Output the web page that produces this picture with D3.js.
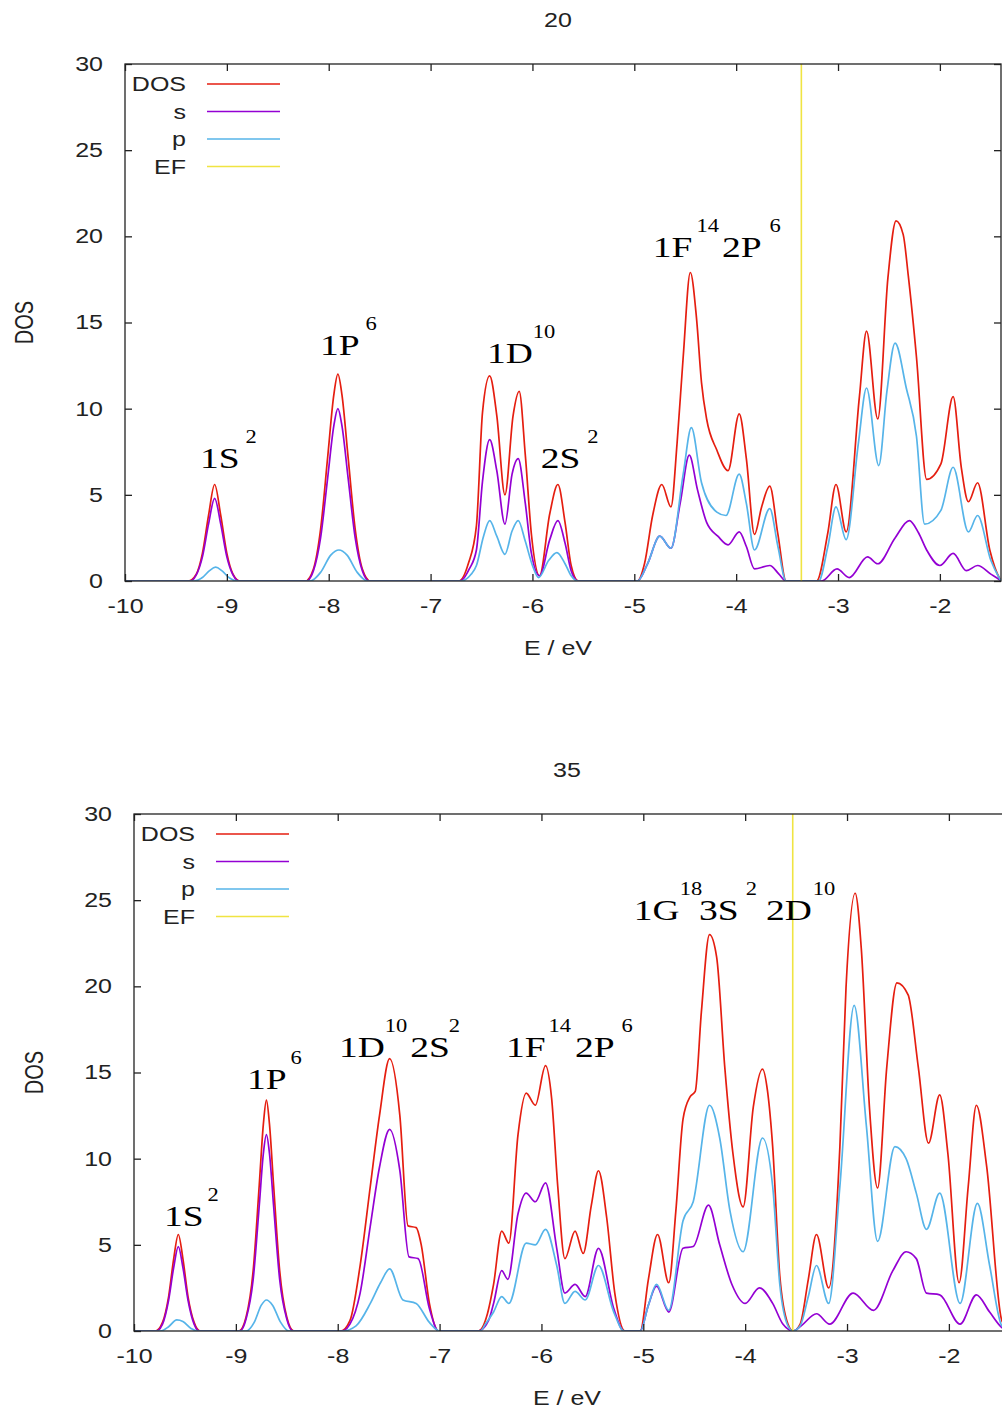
<!DOCTYPE html>
<html lang="en">
<head>
<meta charset="utf-8">
<style>
  body { margin: 0; background: #fff; }
  svg text { font-family: "Liberation Sans", Arial, sans-serif; fill: #222; }
  .axis { color: #222; }
  .axis text { font-size: 20px; }
  .axis .domain { display: none; }
  .axis line { stroke-width: 1.3px; }
  .frame { fill: none; stroke: #222; stroke-width: 1.3px; }
  .curve { fill: none; stroke-width: 1.7px; stroke-linejoin: round; }
  .lbl { font-size: 20px; }
  .ann { font-family: "Liberation Serif", "Times New Roman", serif; fill: #000; }
</style>
<script src="https://d3js.org/d3.v7.min.js"></script>
</head>
<body>
<svg width="1002" height="1411"></svg>
<script>
// ---- data: [E (eV), DOS] ----
var xTicks = [-10, -9, -8, -7, -6, -5, -4, -3, -2];
var yTicks = [0, 5, 10, 15, 20, 25, 30];
var legendNames = ["DOS", "s", "p", "EF"];
var colors = ["#e51e10", "#9400d3", "#56b4e9", "#f0e442"];

// panel "20"
var dos20 = [
  [-10,0],[-9.38,0],[-9.3,0.4],[-9.24,1.6],[-9.18,3.8],[-9.12,5.6],[-9.06,3.8],[-9.0,1.6],[-8.94,0.4],[-8.87,0],
  [-8.23,0],[-8.15,0.7],[-8.08,3.0],[-8.01,7.2],[-7.95,10.8],[-7.91,12.0],[-7.87,10.8],[-7.81,7.2],[-7.74,3.0],[-7.67,0.7],[-7.59,0],
  [-6.72,0],[-6.63,1.0],[-6.55,3.2],[-6.49,9.8],[-6.42,11.9],[-6.35,9.6],[-6.27,5.0],[-6.19,9.6],[-6.13,11.0],[-6.07,7.3],[-6.01,2.7],[-5.93,0.3],[-5.83,3.9],[-5.75,5.6],[-5.68,3.4],[-5.62,0.9],[-5.55,0],
  [-4.97,0],[-4.9,1.0],[-4.82,3.8],[-4.73,5.6],[-4.64,4.3],[-4.58,8.0],[-4.52,13.0],[-4.45,17.9],[-4.39,15.3],[-4.34,11.5],[-4.29,9.4],[-4.19,7.6],[-4.08,6.4],[-3.97,9.7],[-3.9,7.1],[-3.82,2.7],[-3.75,4.3],[-3.67,5.5],[-3.59,2.7],[-3.51,0],
  [-3.21,0],[-3.1,2.8],[-3.02,5.6],[-2.92,2.85],[-2.79,10.7],[-2.72,14.5],[-2.61,9.4],[-2.51,17.6],[-2.43,20.9],[-2.36,20.1],[-2.31,17.7],[-2.23,13.0],[-2.13,5.9],[-1.99,6.8],[-1.87,10.7],[-1.79,6.6],[-1.72,4.6],[-1.63,5.7],[-1.51,1.8],[-1.41,0.1],[-1.4,0]
];
var s20 = [
  [-10,0],[-9.36,0],[-9.3,0.35],[-9.24,1.4],[-9.18,3.3],[-9.12,4.8],[-9.06,3.3],[-9.0,1.4],[-8.94,0.35],[-8.88,0],
  [-8.22,0],[-8.15,0.6],[-8.08,2.5],[-8.01,6.0],[-7.95,9.0],[-7.91,10.0],[-7.87,9.0],[-7.81,6.0],[-7.74,2.5],[-7.67,0.6],[-7.6,0],
  [-6.71,0],[-6.62,0.7],[-6.55,1.8],[-6.49,5.8],[-6.42,8.2],[-6.35,6.4],[-6.27,3.3],[-6.2,6.2],[-6.14,7.1],[-6.07,4.5],[-6.01,1.6],[-5.93,0.3],[-5.83,2.4],[-5.75,3.5],[-5.68,2.2],[-5.62,0.6],[-5.55,0],
  [-4.97,0],[-4.87,1.0],[-4.75,2.6],[-4.64,1.9],[-4.55,4.5],[-4.46,7.3],[-4.38,5.3],[-4.29,3.4],[-4.18,2.6],[-4.08,2.1],[-3.97,2.85],[-3.9,2.0],[-3.82,0.7],[-3.67,0.9],[-3.58,0.4],[-3.51,0],
  [-3.16,0],[-3.01,0.7],[-2.89,0.2],[-2.71,1.4],[-2.61,1.0],[-2.44,2.5],[-2.3,3.5],[-2.21,2.8],[-2.13,1.8],[-2.0,0.9],[-1.87,1.6],[-1.74,0.6],[-1.63,0.9],[-1.5,0.4],[-1.41,0.05],[-1.4,0]
];
var p20 = [
  [-10,0],[-9.32,0],[-9.24,0.2],[-9.17,0.6],[-9.11,0.8],[-9.05,0.6],[-8.98,0.2],[-8.9,0],
  [-8.18,0],[-8.08,0.5],[-7.98,1.5],[-7.9,1.8],[-7.82,1.5],[-7.72,0.5],[-7.62,0],
  [-6.7,0],[-6.6,0.4],[-6.55,0.9],[-6.48,2.6],[-6.42,3.5],[-6.35,2.6],[-6.27,1.55],[-6.2,2.9],[-6.14,3.5],[-6.07,2.3],[-6.0,0.9],[-5.94,0.2],[-5.84,1.2],[-5.76,1.65],[-5.68,1.0],[-5.62,0.3],[-5.56,0],
  [-4.97,0],[-4.87,1.0],[-4.75,2.6],[-4.64,1.9],[-4.52,6.2],[-4.44,8.9],[-4.34,5.7],[-4.19,4.0],[-4.1,3.8],[-3.97,6.2],[-3.9,4.5],[-3.82,1.8],[-3.67,4.2],[-3.59,2.0],[-3.51,0],
  [-3.19,0],[-3.1,2.0],[-3.02,4.3],[-2.92,2.4],[-2.8,8.0],[-2.72,11.2],[-2.6,6.7],[-2.52,11.0],[-2.44,13.8],[-2.33,11.2],[-2.23,8.4],[-2.15,3.3],[-1.99,4.1],[-1.87,6.6],[-1.72,2.85],[-1.63,3.8],[-1.5,1.2],[-1.41,0.1],[-1.4,0]
];

// panel "35"
var dos35 = [
  [-10,0],[-9.79,0],[-9.72,0.5],[-9.66,2.0],[-9.61,4.2],[-9.565,5.6],[-9.52,4.2],[-9.47,2.0],[-9.41,0.5],[-9.35,0],
  [-8.97,0],[-8.9,0.8],[-8.83,3.5],[-8.77,8.5],[-8.73,12.0],[-8.7,13.4],[-8.67,12.0],[-8.63,8.5],[-8.57,3.5],[-8.5,0.8],[-8.43,0],
  [-7.97,0],[-7.88,0.6],[-7.78,3.8],[-7.68,8.4],[-7.59,12.5],[-7.49,15.8],[-7.39,12.5],[-7.31,6.1],[-7.23,6.0],[-7.18,5.0],[-7.1,1.6],[-7.01,0],
  [-6.62,0],[-6.53,1.0],[-6.47,2.7],[-6.39,5.8],[-6.32,5.1],[-6.23,11.4],[-6.15,13.8],[-6.06,13.1],[-5.96,15.4],[-5.9,13.5],[-5.84,8.4],[-5.77,4.2],[-5.67,5.8],[-5.59,4.5],[-5.51,7.3],[-5.44,9.3],[-5.36,6.6],[-5.28,2.2],[-5.18,0],
  [-5.03,0],[-4.95,3.0],[-4.86,5.6],[-4.75,2.8],[-4.68,7.0],[-4.61,12.3],[-4.54,13.6],[-4.49,13.9],[-4.43,18.5],[-4.35,23.0],[-4.28,21.7],[-4.2,15.3],[-4.12,10.3],[-4.02,7.2],[-3.92,13.0],[-3.83,15.2],[-3.78,13.9],[-3.73,10.7],[-3.66,3.2],[-3.58,0.4],[-3.53,0],
  [-3.46,0.4],[-3.38,3.0],[-3.3,5.6],[-3.18,2.5],[-3.07,10.7],[-3.01,19.9],[-2.92,25.4],[-2.86,22.2],[-2.78,13.0],[-2.7,8.3],[-2.61,15.3],[-2.51,20.2],[-2.4,19.5],[-2.3,15.3],[-2.2,10.9],[-2.09,13.7],[-2.01,10.3],[-1.9,2.8],[-1.81,8.4],[-1.73,13.1],[-1.63,9.6],[-1.48,0.6],[-1.4,0]
];
var s35 = [
  [-10,0],[-9.78,0],[-9.72,0.4],[-9.66,1.8],[-9.61,3.7],[-9.565,4.9],[-9.52,3.7],[-9.47,1.8],[-9.41,0.4],[-9.36,0],
  [-8.96,0],[-8.9,0.7],[-8.83,3.0],[-8.77,7.3],[-8.73,10.3],[-8.7,11.4],[-8.67,10.3],[-8.63,7.3],[-8.57,3.0],[-8.5,0.7],[-8.44,0],
  [-7.96,0],[-7.88,0.4],[-7.78,2.2],[-7.68,6.1],[-7.59,9.5],[-7.49,11.7],[-7.39,9.3],[-7.3,4.3],[-7.21,4.2],[-7.1,1.3],[-7.01,0],
  [-6.62,0],[-6.52,0.6],[-6.47,1.6],[-6.39,3.5],[-6.33,3.0],[-6.23,6.8],[-6.15,8.0],[-6.06,7.5],[-5.96,8.6],[-5.85,4.8],[-5.77,2.2],[-5.67,2.7],[-5.57,2.0],[-5.44,4.8],[-5.29,1.3],[-5.19,0],
  [-5.03,0],[-4.95,1.5],[-4.87,2.6],[-4.75,1.1],[-4.61,4.8],[-4.51,4.9],[-4.36,7.3],[-4.25,5.0],[-4.13,2.7],[-4.0,1.6],[-3.86,2.5],[-3.73,1.6],[-3.63,0.4],[-3.53,0],
  [-3.45,0.3],[-3.3,1.0],[-3.17,0.4],[-2.94,2.2],[-2.74,1.2],[-2.55,3.5],[-2.42,4.6],[-2.32,4.2],[-2.22,2.2],[-2.09,2.1],[-1.89,0.4],[-1.73,2.1],[-1.6,1.1],[-1.48,0.2],[-1.4,0]
];
var p35 = [
  [-10,0],[-9.74,0],[-9.66,0.25],[-9.58,0.64],[-9.52,0.55],[-9.44,0.15],[-9.38,0],
  [-8.9,0],[-8.82,0.5],[-8.75,1.5],[-8.7,1.8],[-8.64,1.5],[-8.56,0.5],[-8.48,0],
  [-7.95,0],[-7.82,0.3],[-7.68,1.6],[-7.58,2.8],[-7.49,3.6],[-7.36,1.8],[-7.23,1.6],[-7.1,0.5],[-7.0,0],
  [-6.6,0],[-6.55,0.4],[-6.47,1.1],[-6.39,2.0],[-6.32,1.6],[-6.15,5.1],[-6.06,5.0],[-5.96,5.9],[-5.85,3.8],[-5.77,1.6],[-5.67,2.3],[-5.57,1.8],[-5.44,3.8],[-5.29,1.1],[-5.19,0],
  [-5.03,0],[-4.95,1.5],[-4.87,2.7],[-4.75,1.2],[-4.61,6.4],[-4.51,7.5],[-4.35,13.1],[-4.25,11.2],[-4.15,7.0],[-4.02,4.6],[-3.83,11.2],[-3.73,8.4],[-3.66,2.7],[-3.58,0.3],[-3.53,0],
  [-3.46,0.3],[-3.38,2.0],[-3.3,3.8],[-3.18,1.6],[-3.07,8.4],[-2.93,18.9],[-2.81,11.9],[-2.7,5.2],[-2.53,10.7],[-2.42,10.0],[-2.32,8.0],[-2.22,5.9],[-2.09,8.0],[-1.89,1.6],[-1.72,7.4],[-1.6,3.8],[-1.48,0.3],[-1.4,0]
];

// shell labels: base text / superscript alternating, anchored at (E, DOS);
// gaps = space in px before each following part
var ann20 = [
  {e: -9.264, v: 6.56, parts: ["1S", "2"], gaps: [6]},
  {e: -8.086, v: 13.11, parts: ["1P", "6"], gaps: [6]},
  {e: -6.447, v: 12.65, parts: ["1D", "10"], gaps: [0]},
  {e: -5.918, v: 6.56, parts: ["2S", "2"], gaps: [7]},
  {e: -4.818, v: 18.8, parts: ["1F", "14", "2P", "6"], gaps: [4, 3, 8]}
];
var ann35 = [
  {e: -9.706, v: 6.09, parts: ["1S", "2"], gaps: [4]},
  {e: -8.891, v: 14.04, parts: ["1P", "6"], gaps: [4]},
  {e: -7.988, v: 15.9, parts: ["1D", "10", "2S", "2"], gaps: [0, 3, -1]},
  {e: -6.349, v: 15.9, parts: ["1F", "14", "2P", "6"], gaps: [3, 4, 7]},
  {e: -5.093, v: 23.85, parts: ["1G", "18", "3S", "2", "2D", "10"], gaps: [0, -3, 7, 9, 1]}
];

var panels = [
  {title: "20", ef: -3.36, series: [dos20, s20, p20], ann: ann20,
   left: 125, right: 1001, top: 64, bottom: 581, ylabX: 25},
  {title: "35", ef: -3.533, series: [dos35, s35, p35], ann: ann35,
   left: 134, right: 1010, top: 814, bottom: 1331, ylabX: 35}
];

var svg = d3.select("svg");
var SX = 1.25; // picture is stretched sideways
var SUP = 25;  // superscript raise

panels.forEach(function(p, k) {
  var x = d3.scaleLinear().domain([-10, -1.4]).range([p.left, p.right]);
  var y = d3.scaleLinear().domain([0, 30]).range([p.bottom, p.top]);
  var g = svg.append("g");
  var cx = (p.left + p.right) / 2 - 5;

  g.append("clipPath").attr("id", "clip" + k)
    .append("rect").attr("x", p.left).attr("y", p.top)
    .attr("width", p.right - p.left).attr("height", p.bottom - p.top);

  // curves
  var line = d3.line()
    .x(function(d) { return x(d[0]); })
    .y(function(d) { return y(d[1]); })
    .curve(d3.curveMonotoneX);
  var plot = g.append("g").attr("clip-path", "url(#clip" + k + ")");
  p.series.forEach(function(s, i) {
    plot.append("path").attr("class", "curve")
      .attr("stroke", colors[i]).attr("d", line(s));
  });
  plot.append("line")
    .attr("x1", x(p.ef)).attr("x2", x(p.ef))
    .attr("y1", y(0)).attr("y2", y(30))
    .attr("stroke", colors[3]).attr("stroke-width", 1.6);

  // axes, ticks pointing inward
  var fmt = function(d) { return String(d); };
  g.append("g").attr("class", "axis").attr("transform", "translate(0," + p.bottom + ")")
    .call(d3.axisBottom(x).tickValues(xTicks).tickSizeInner(-7).tickSizeOuter(0).tickPadding(18).tickFormat(fmt))
    .selectAll("text").attr("transform", "scale(" + SX + ",1)");
  g.append("g").attr("class", "axis").attr("transform", "translate(0," + p.top + ")")
    .call(d3.axisTop(x).tickValues(xTicks).tickSizeInner(-7).tickSizeOuter(0).tickFormat(""));
  g.append("g").attr("class", "axis").attr("transform", "translate(" + p.left + ",0)")
    .call(d3.axisLeft(y).tickValues(yTicks).tickSizeInner(-7).tickSizeOuter(0).tickPadding(17.6).tickFormat(fmt))
    .selectAll("text").attr("transform", "scale(" + SX + ",1)");
  g.append("g").attr("class", "axis").attr("transform", "translate(" + p.right + ",0)")
    .call(d3.axisRight(y).tickValues(yTicks).tickSizeInner(-7).tickSizeOuter(0).tickFormat(""));

  g.append("rect").attr("class", "frame")
    .attr("x", p.left).attr("y", p.top)
    .attr("width", p.right - p.left).attr("height", p.bottom - p.top);

  // titles
  g.append("text").attr("class", "lbl").attr("text-anchor", "middle")
    .attr("transform", "translate(" + cx + "," + (p.top - 37) + ") scale(" + SX + ",1)")
    .text(p.title);
  g.append("text").attr("class", "lbl").attr("text-anchor", "middle")
    .attr("transform", "translate(" + cx + "," + (p.bottom + 74) + ") scale(" + SX + ",1)")
    .text("E / eV");
  g.append("text").attr("class", "lbl").attr("text-anchor", "middle")
    .attr("transform", "translate(" + (p.ylabX + 8) + "," + ((p.top + p.bottom) / 2) + ") scale(" + SX + ",1) rotate(-90)")
    .text("DOS");

  // legend
  var lg = g.append("g");
  legendNames.forEach(function(name, i) {
    var ly = p.top + 20 + i * 27.5;
    lg.append("text").attr("class", "lbl").attr("text-anchor", "end")
      .attr("transform", "translate(" + (p.left + 61) + "," + (ly + 7) + ") scale(" + SX + ",1)")
      .text(name);
    lg.append("line")
      .attr("x1", p.left + 82).attr("x2", p.left + 155)
      .attr("y1", ly).attr("y2", ly)
      .attr("stroke", colors[i]).attr("stroke-width", 1.7);
  });

  // shell annotations
  p.ann.forEach(function(a) {
    var t = g.append("text").attr("class", "ann")
      .attr("transform", "translate(" + x(a.e) + "," + y(a.v) + ") scale(" + SX + ",1)");
    a.parts.forEach(function(str, j) {
      var sup = j % 2 === 1;
      t.append("tspan")
        .attr("font-size", sup ? 18 : 30)
        .attr("dx", j === 0 ? 0 : a.gaps[j - 1] / SX)
        .attr("dy", j === 0 ? 0 : (sup ? -SUP : SUP))
        .text(str);
    });
  });
});
</script>
</body>
</html>
